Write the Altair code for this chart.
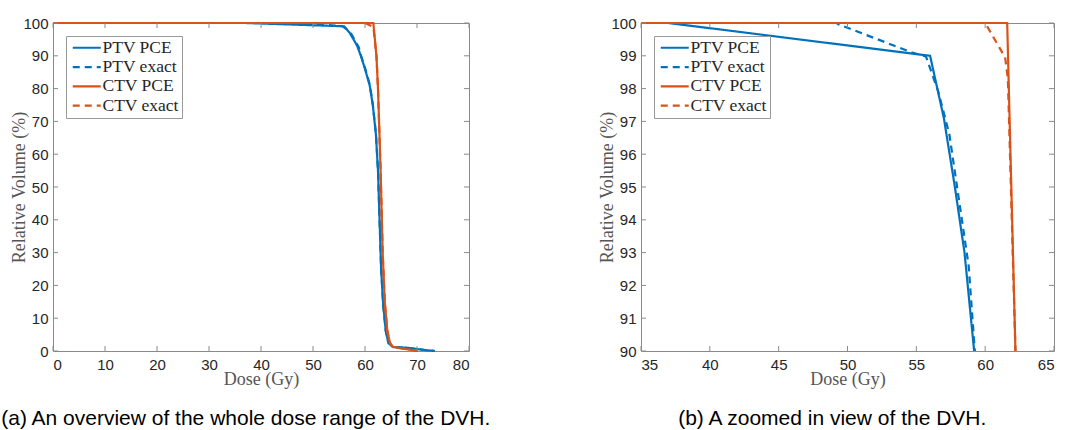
import altair as alt
import pandas as pd

# ---- data ----
SERIES = ["PTV PCE", "PTV exact", "CTV PCE", "CTV exact"]
COLORS = ["#0072BD", "#0072BD", "#D95319", "#D95319"]
DASHES = [[1, 0], [7, 5], [1, 0], [7, 5]]

ptv_pce_dose = [0, 35, 37, 56, 57.0, 57.8, 58.5, 59.2, 60.0, 60.9, 61.5, 62.1, 62.5, 62.8, 63.1, 63.5, 64.0, 64.5, 65.4, 68.0, 70.0, 71.5, 73.4]
ptv_pce_vol = [100, 100, 100, 99, 97.1, 95.0, 93.0, 90.0, 86, 81, 75, 66, 55, 40, 25, 14, 6, 2.5, 1.2, 1.0, 0.6, 0.3, 0]

ptv_ex_dose = [0, 35, 49.2, 49.4, 54.7, 55.7, 56.6, 57.4, 58.1, 58.8, 59.25, 60.0, 60.9, 61.5, 62.1, 62.5, 62.8, 63.1, 63.5, 64.0, 64.5, 65.4, 68.0, 70.0, 71.5, 73.4]
ptv_ex_vol = [100, 100, 100, 99.95, 99.1, 98.98, 97.9, 96.6, 94.6, 92.6, 90, 86.3, 81.3, 75.3, 66.3, 55, 40, 25, 14, 6, 2.5, 1.2, 1.0, 0.6, 0.3, 0]

ctv_pce_dose = [0, 35, 61.6, 62.2, 62.5, 63.0, 63.4, 63.8, 64.3, 64.8, 65.3, 67.0, 69.0, 70.2]
ctv_pce_vol = [100, 100, 100, 90, 80, 55, 30, 15, 6, 2.5, 1.3, 0.8, 0.3, 0]

ctv_ex_dose = [0, 35, 60.0, 61.45, 61.65, 62.2, 62.5, 63.0, 63.4, 63.8, 64.3, 64.8, 65.3, 67.0, 69.0, 70.2]
ctv_ex_vol = [100, 100, 100, 98.95, 98.3, 90, 80, 55, 30, 15, 6, 2.5, 1.3, 0.8, 0.3, 0]

x_ticks_a = [0, 10, 20, 30, 40, 50, 60, 70, 80]
y_ticks_a = [0, 10, 20, 30, 40, 50, 60, 70, 80, 90, 100]
x_ticks_b = [35, 40, 45, 50, 55, 60, 65]
y_ticks_b = [90, 91, 92, 93, 94, 95, 96, 97, 98, 99, 100]

captions = ["(a) An overview of the whole dose range of the DVH.",
            "(b) A zoomed in view of the DVH."]

rows = []
for name, ds, vs in [("PTV PCE", ptv_pce_dose, ptv_pce_vol),
                     ("PTV exact", ptv_ex_dose, ptv_ex_vol),
                     ("CTV PCE", ctv_pce_dose, ctv_pce_vol),
                     ("CTV exact", ctv_ex_dose, ctv_ex_vol)]:
    for i, (d, v) in enumerate(zip(ds, vs)):
        rows.append({"series": name, "dose": d, "vol": v, "idx": i})
df = pd.DataFrame(rows)

FRAME = "#8a8a8a"
H = 328
TK = 5


def make_legend():
    return alt.Legend(title=None, orient="none", legendX=13, legendY=13,
                      symbolType="M-2.8,0L2.8,0", symbolSize=100, symbolOffset=9,
                      symbolStrokeWidth=2.2,
                      labelFont="Liberation Serif", labelFontSize=17.5,
                      labelColor="#262626", labelOffset=7,
                      strokeColor="#9a9a9a", fillColor="white",
                      padding=3, rowPadding=0.3, labelLimit=200)


def panel(xdom, ydom, xt, yt, W, caption, filt=False):
    base = alt.Chart(df)
    if filt:
        base = base.transform_filter(
            (alt.datum.dose >= xdom[0]) & (alt.datum.dose <= xdom[1]) &
            (alt.datum.vol >= ydom[0]) & (alt.datum.vol <= ydom[1]))
    xs = alt.Scale(domain=xdom, nice=False, zero=False)
    ys = alt.Scale(domain=ydom, nice=False, zero=False)
    xax = alt.Axis(values=xt, title="Dose (Gy)", labelPadding=6,
                   titleY=28, titleBaseline="middle")
    yax = alt.Axis(values=yt, title="Relative Volume (%)", labelPadding=5,
                   titleX=-34, titleBaseline="middle")
    lines = base.mark_line(strokeWidth=2.2).encode(
        x=alt.X("dose:Q", scale=xs, axis=xax),
        y=alt.Y("vol:Q", scale=ys, axis=yax),
        color=alt.Color("series:N", scale=alt.Scale(domain=SERIES, range=COLORS),
                        legend=make_legend()),
        strokeDash=alt.StrokeDash("series:N", scale=alt.Scale(domain=SERIES, range=DASHES),
                                  legend=make_legend()),
        order="idx:Q",
    )
    xdf = pd.DataFrame({"dose": xt})
    ydf = pd.DataFrame({"vol": yt})
    tick_x_b = alt.Chart(xdf).mark_rule(color=FRAME, strokeWidth=1).encode(
        x=alt.X("dose:Q", scale=xs, axis=xax), y=alt.value(H), y2=alt.value(H - TK))
    tick_x_t = alt.Chart(xdf).mark_rule(color=FRAME, strokeWidth=1).encode(
        x=alt.X("dose:Q", scale=xs, axis=xax), y=alt.value(0), y2=alt.value(TK))
    tick_y_l = alt.Chart(ydf).mark_rule(color=FRAME, strokeWidth=1).encode(
        y=alt.Y("vol:Q", scale=ys, axis=yax), x=alt.value(0), x2=alt.value(TK))
    tick_y_r = alt.Chart(ydf).mark_rule(color=FRAME, strokeWidth=1).encode(
        y=alt.Y("vol:Q", scale=ys, axis=yax), x=alt.value(W), x2=alt.value(W - TK))
    return alt.layer(lines, tick_x_b, tick_x_t, tick_y_l, tick_y_r).properties(
        width=W, height=H,
        title=alt.TitleParams(caption, orient="bottom", anchor="middle", frame="bounds",
                              font="Liberation Sans", fontSize=21, fontWeight="normal",
                              color="black", offset=20, dx=6))


left = panel([0, 80], [0, 100], x_ticks_a, y_ticks_a, 416, captions[0])
right = panel([35, 65], [90, 100], x_ticks_b, y_ticks_b, 413, captions[1], filt=True)

chart = alt.hconcat(left, right, spacing=105).resolve_scale(
    color="independent", strokeDash="independent").resolve_legend(
    color="independent", strokeDash="independent").properties(
    padding={"left": 0, "top": 15, "right": 0, "bottom": 0},
    background="white").configure_view(stroke=FRAME, strokeWidth=1).configure_axis(
    labelFont="Liberation Sans", labelFontSize=15, labelColor="#262626",
    ticks=False, domain=False, grid=False,
    titleFont="Liberation Serif", titleFontSize=18, titleFontWeight="normal",
    titleColor="#555555")

chart.save("out.html", embed_options={"renderer": "svg", "actions": False})
